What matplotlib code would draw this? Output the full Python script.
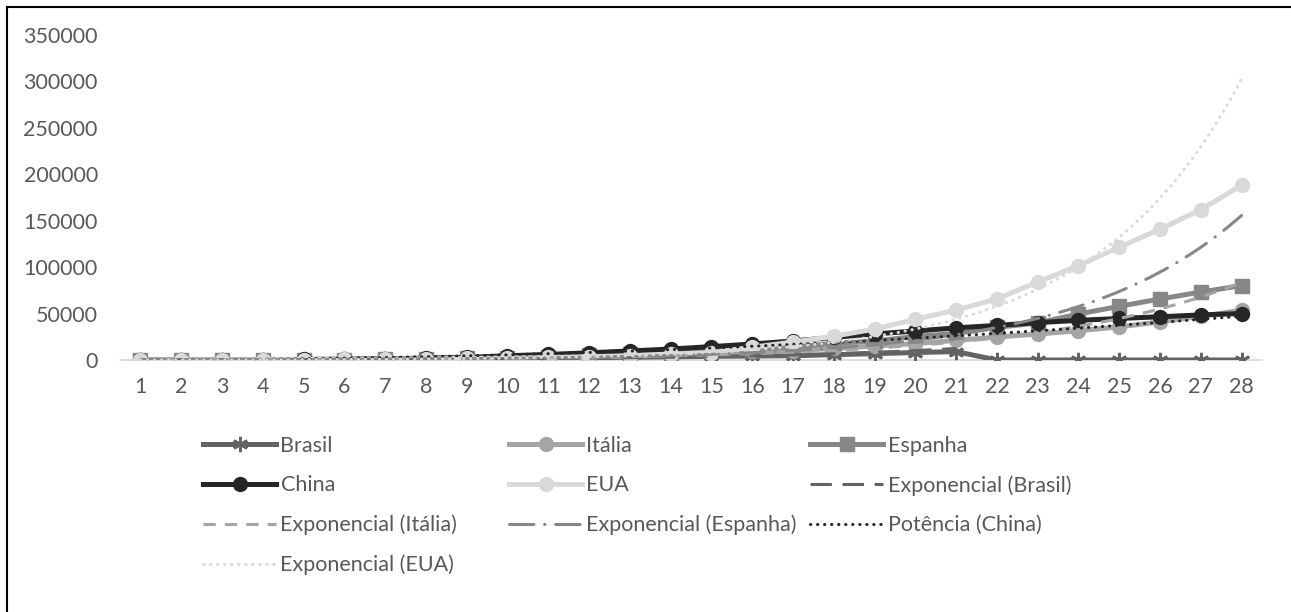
import numpy as np
import matplotlib
matplotlib.use("Agg")
import matplotlib.pyplot as plt
from matplotlib.lines import Line2D

plt.rcParams['font.family'] = ['Lato', 'DejaVu Sans']

# dias desde o caso 100 (aprox.)
dias = list(range(1, 29))

brasil = [121, 200, 234, 291, 428, 621, 904, 1128, 1546, 1891, 2201, 2433, 2915, 3417,
          3904, 4256, 4579, 5717, 6836, 8044, 9056, 0, 0, 0, 0, 0, 0, 0]
italia = [155, 229, 322, 453, 655, 888, 1128, 1694, 2036, 2502, 3089, 3858, 4636, 5883,
          7375, 9172, 10149, 12462, 15113, 17660, 21157, 24747, 27980, 31506, 35713,
          41035, 47021, 53578]
espanha = [120, 165, 222, 259, 400, 500, 673, 1073, 1695, 2277, 3146, 5232, 6391, 7798,
           9942, 11748, 13910, 17963, 20410, 25374, 28603, 35136, 39885, 49515, 57786,
           65719, 73235, 80110]
china = [270, 278, 309, 440, 571, 830, 1297, 1985, 2741, 4537, 5997, 7736, 9720, 11821,
         14411, 17238, 20471, 24363, 28060, 31211, 34598, 37251, 40235, 42708, 44730,
         46550, 48548, 50054]
eua = [149, 217, 262, 402, 518, 583, 959, 1281, 1663, 2179, 2727, 3499, 4632, 6421,
       7783, 13747, 19273, 25600, 33276, 43847, 53740, 65778, 83836, 101657, 121465,
       140909, 161831, 188172]

yticks = [0, 50000, 100000, 150000, 200000, 250000, 300000, 350000]

c_brasil = '#636363'
c_italia = '#a5a5a5'
c_espanha = '#878787'
c_china = '#262626'
c_eua = '#d9d9d9'
txt = '#595959'


def exp_trend(x, y):
    x = np.array(x, dtype=float)
    y = np.array(y, dtype=float)
    ok = y > 0
    b, a = np.polyfit(x[ok], np.log(y[ok]), 1)
    xs = np.linspace(x[ok].min(), x[ok].max(), 300)
    return xs, np.exp(a + b * xs)


def pow_trend(x, y):
    x = np.array(x, dtype=float)
    y = np.array(y, dtype=float)
    b, a = np.polyfit(np.log(x), np.log(y), 1)
    xs = np.linspace(x.min(), x.max(), 300)
    return xs, np.exp(a) * xs ** b


fig = plt.figure(figsize=(12.91, 6.12), dpi=100)
ax = fig.add_axes([120 / 1291, 252 / 612, 1142 / 1291, 325 / 612])

lw = 3.6
h_brasil, = ax.plot(dias, brasil, color=c_brasil, lw=lw, marker=(6, 2, 0), ms=11,
                    mew=2, zorder=3, label='Brasil')
h_italia, = ax.plot(dias, italia, color=c_italia, lw=lw, marker='o', ms=10, zorder=3,
                    label='Itália')
h_espanha, = ax.plot(dias, espanha, color=c_espanha, lw=lw, marker='s', ms=9.5, zorder=3,
                     label='Espanha')
h_china, = ax.plot(dias, china, color=c_china, lw=lw, marker='o', ms=10, zorder=3,
                   label='China')
h_eua, = ax.plot(dias, eua, color=c_eua, lw=lw, marker='o', ms=10, zorder=3, label='EUA')

tw = 2.2
x, y = exp_trend(dias, brasil)
t_brasil, = ax.plot(x, y, color=c_brasil, lw=tw, ls=(0, (7, 3.5)), zorder=4,
                    label='Exponencial (Brasil)')
x, y = exp_trend(dias, italia)
t_italia, = ax.plot(x, y, color=c_italia, lw=tw, ls=(0, (4, 3)), zorder=4,
                    label='Exponencial (Itália)')
x, y = exp_trend(dias, espanha)
t_espanha, = ax.plot(x, y, color=c_espanha, lw=tw, ls=(0, (8, 3.5, 0.1, 3.5)),
                     dash_capstyle='round', zorder=4, label='Exponencial (Espanha)')
x, y = pow_trend(dias, china)
t_china, = ax.plot(x, y, color=c_china, lw=tw, ls=(0, (0.1, 2.2)), dash_capstyle='round',
                   zorder=4, label='Potência (China)')
x, y = exp_trend(dias, eua)
t_eua, = ax.plot(x, y, color=c_eua, lw=tw, ls=(0, (0.1, 2.2)), dash_capstyle='round',
                 zorder=4, label='Exponencial (EUA)')

ax.set_xlim(0.5, 28.5)
ax.set_ylim(0, 350000)
ax.set_xticks(dias)
ax.set_yticks(yticks)
ax.set_yticklabels([str(v) for v in yticks])
for s in ['top', 'right', 'left']:
    ax.spines[s].set_visible(False)
ax.spines['bottom'].set_color('#d9d9d9')
ax.spines['bottom'].set_linewidth(1.2)
ax.spines['bottom'].set_zorder(1)
ax.tick_params(axis='both', length=0, labelsize=15.5, labelcolor=txt)
ax.tick_params(axis='x', pad=12)
ax.tick_params(axis='y', pad=16)

# legenda em 3 colunas
cols = [
    (203, [h_brasil, h_china, t_italia, t_eua]),
    (509, [h_italia, h_eua, t_espanha]),
    (810, [h_espanha, t_brasil, t_china]),
]
for x0, hs in cols:
    leg = fig.legend(handles=hs, labels=[h.get_label() for h in hs], loc='upper left',
                     bbox_to_anchor=(x0 / 1291, 1 - 436 / 612), frameon=False,
                     fontsize=15.5, handlelength=3.4, handletextpad=0.2, labelspacing=0.9,
                     borderpad=0, borderaxespad=0)
    for t in leg.get_texts():
        t.set_color(txt)

# borda do gráfico (esquerda e topo)
fig.add_artist(Line2D([7 / 1291, 7 / 1291], [0, 1 - 7 / 612], transform=fig.transFigure,
                      color='black', lw=1.5))
fig.add_artist(Line2D([7 / 1291, 1], [1 - 7 / 612, 1 - 7 / 612], transform=fig.transFigure,
                      color='black', lw=1.5))

fig.savefig('out.png', dpi=100)
